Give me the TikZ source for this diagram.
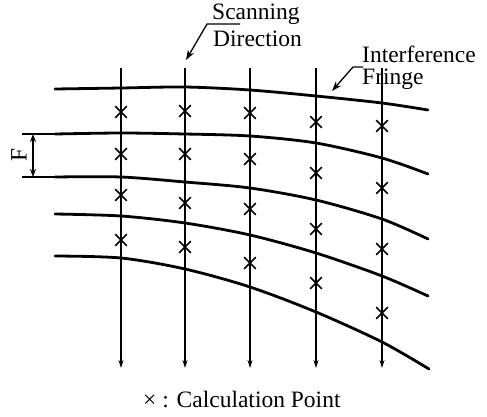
\documentclass[tikz,border=0pt]{standalone}
\usepackage{fontspec}
\setmainfont{Liberation Serif}
\usetikzlibrary{arrows.meta, shapes.misc}
\tikzset{
    fringe/.style={line width=2.8pt, line cap=round},
    scanline/.style={line width=1.2pt, -{Stealth[length=8pt, width=5pt]}},
    calcpoint/.style={cross out, draw, line width=1.7pt, minimum size=10pt, inner sep=0pt},
    leader/.style={line width=1.3pt, -{Stealth[length=10pt, width=7pt]}},
    dimline/.style={line width=1.4pt},
    label_text/.style={font=\fontsize{23.5}{26}\selectfont, inner sep=0pt}
}
\begin{document}
\begin{tikzpicture}[x=1pt, y=-1pt]
    \useasboundingbox (0,0) rectangle (487,416);

    % Scanning lines
    \foreach \x [count=\i] in {121,185,250,316,382} {
        \coordinate (top\i) at (\x,68);
        \coordinate (bot\i) at (\x,368);
        \draw [scanline] (top\i) -- (bot\i);
    }

    % Interference fringes
    \draw [fringe] plot[smooth] coordinates {(55,89) (121,88) (185,87) (250,90) (316,96) (382,103) (428,110)};
    \draw [fringe] plot[smooth] coordinates {(55,134) (121,133) (185,134) (250,136) (316,143) (382,158) (428,174)};
    \draw [fringe] plot[smooth] coordinates {(55,177) (121,177) (185,182) (250,188) (316,200) (382,219) (428,239)};
    \draw [fringe] plot[smooth] coordinates {(55,214) (121,216) (185,223) (250,235) (316,253) (382,276) (428,296)};
    \draw [fringe] plot[smooth] coordinates {(55,256) (121,258) (185,269) (250,287) (316,312) (382,342) (429,369)};

    % Calculation points
    \foreach \y [count=\j] in {112,154,195,240} \node [calcpoint] (pa\j) at (121,\y) {};
    \foreach \y [count=\j] in {111,154,203,247} \node [calcpoint] (pb\j) at (185,\y) {};
    \foreach \y [count=\j] in {113,159,209,263} \node [calcpoint] (pc\j) at (250,\y) {};
    \foreach \y [count=\j] in {122,173,229,283} \node [calcpoint] (pd\j) at (316,\y) {};
    \foreach \y [count=\j] in {126,188,249,313} \node [calcpoint] (pe\j) at (382,\y) {};

    % Fringe spacing F
    \coordinate (ext_top) at (22,134);
    \coordinate (ext_bot) at (22,177);
    \draw [dimline] (ext_top) -- (55,134);
    \draw [dimline] (ext_bot) -- (55,177);
    \coordinate (dim_top) at (33,134);
    \coordinate (dim_bot) at (33,177);
    \draw [dimline, {Stealth[length=8pt, width=6pt]}-{Stealth[length=8pt, width=6pt]}] (dim_top) -- (dim_bot);
    \node (flabel) [label_text, rotate=90] at (19,155) {F};

    % Labels
    \node (scan) [label_text, anchor=base west] at (212,19) {Scanning};
    \node (dir) [label_text, anchor=base west] at (213,46) {Direction};
    \coordinate (scan_knee) at (207,24);
    \coordinate (scan_tip) at (186,60);
    \draw [leader] (240,24) -- (scan_knee) -- (scan_tip);

    \node (inter) [label_text, anchor=base west] at (362,62) {Interference};
    \node (fr) [label_text, anchor=base west] at (362,84) {Fringe};
    \coordinate (fr_knee) at (353,67);
    \coordinate (fr_tip) at (332,91);
    \draw [leader] (363,67) -- (fr_knee) -- (fr_tip);

    \node (legend) [label_text, anchor=base west] at (143,407) {× : Calculation Point};
\end{tikzpicture}
\end{document}
